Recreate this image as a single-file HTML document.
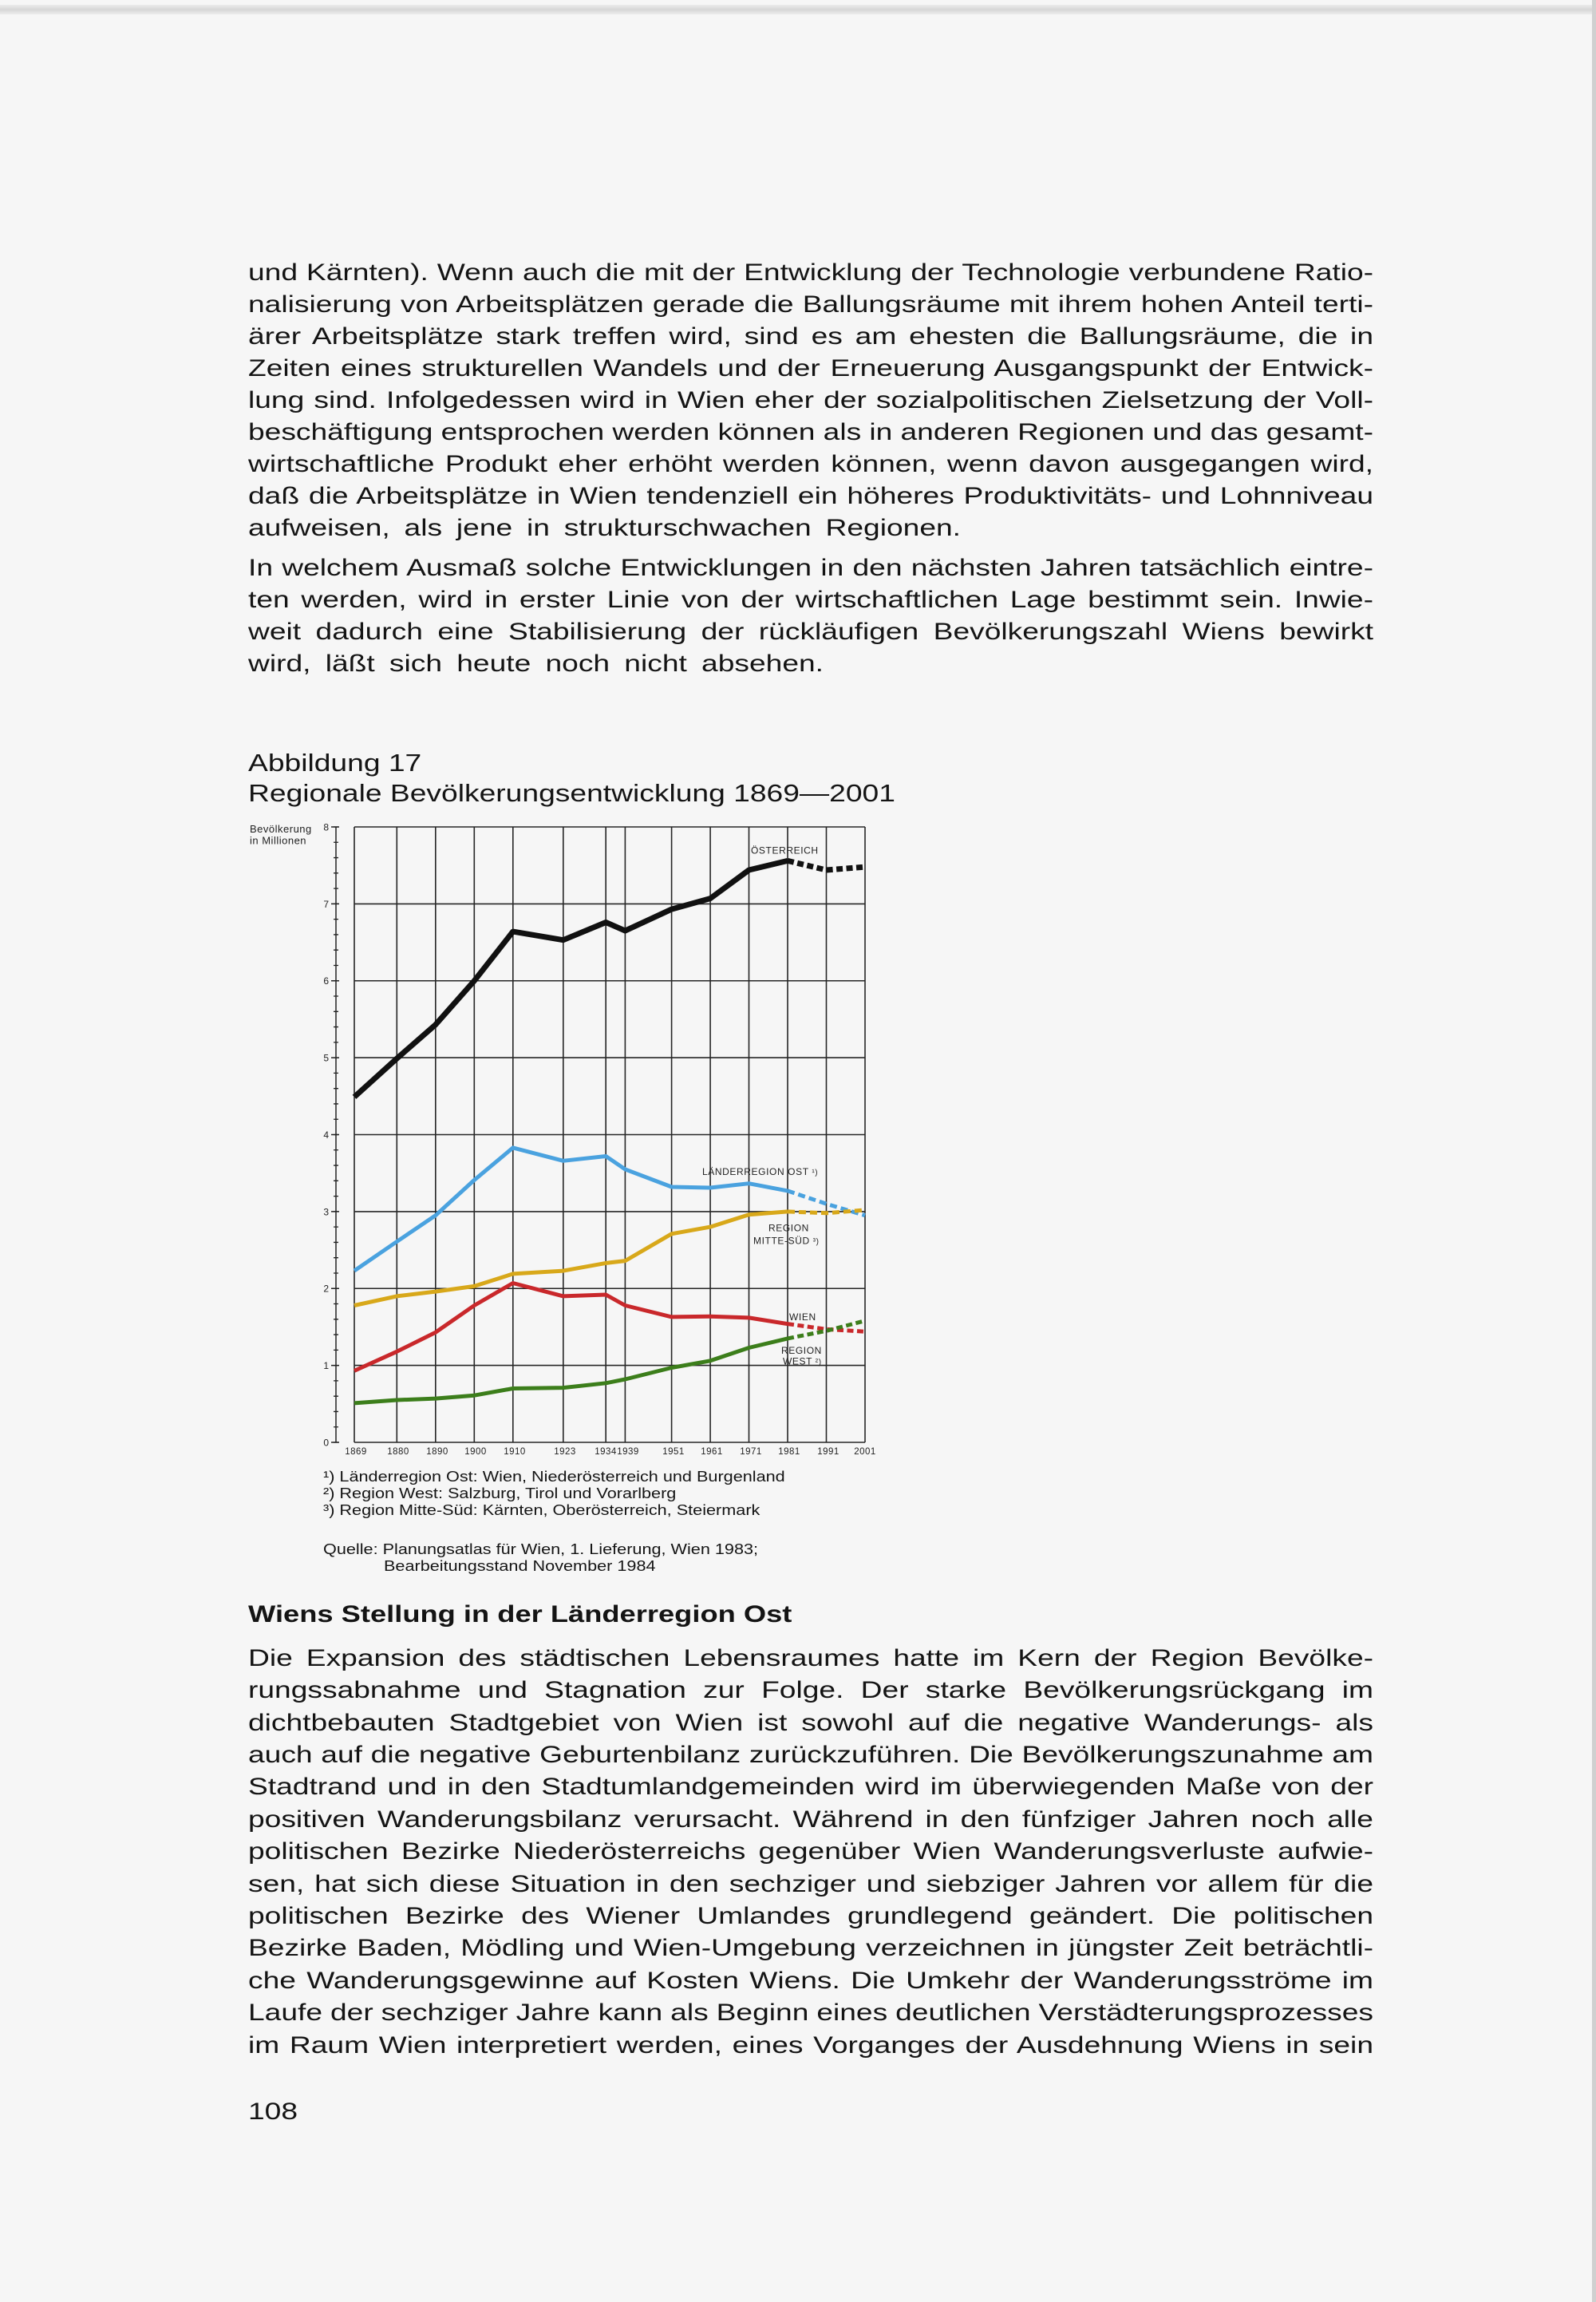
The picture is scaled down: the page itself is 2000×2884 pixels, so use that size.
<!DOCTYPE html>
<html><head><meta charset="utf-8">
<style>
html,body{margin:0;padding:0;}
body{width:2000px;height:2884px;background:#f6f6f6;position:relative;overflow:hidden;font-family:"Liberation Sans",Arial,sans-serif;color:#141414;}
.ln{position:absolute;left:311px;white-space:nowrap;font-size:29.5px;line-height:40px;height:40px;transform:scaleX(1.26);transform-origin:0 0;}
.tt{position:absolute;left:311px;white-space:nowrap;font-size:30.5px;line-height:40px;height:40px;transform:scaleX(1.22);transform-origin:0 0;}
.hd{position:absolute;left:311px;white-space:nowrap;font-size:30px;font-weight:bold;line-height:40px;height:40px;transform:scaleX(1.21);transform-origin:0 0;}
.fn{position:absolute;left:405px;white-space:nowrap;font-size:18.5px;line-height:20px;height:20px;transform:scaleX(1.17);transform-origin:0 0;}
svg{position:absolute;left:0;top:0;}
</style></head>
<body>
<div style="position:absolute;left:0;top:6px;width:2000px;height:12px;background:linear-gradient(#ececec,#d6d6d6 50%,#ececec);"></div>
<div style="position:absolute;left:1995px;top:0;width:5px;height:2884px;background:#d0d0d0;"></div>

<!-- Paragraph 1 -->
<div class="ln" style="top:321.8px">und Kärnten). Wenn auch die mit der Entwicklung der Technologie verbundene Ratio-</div>
<div class="ln" style="top:361.8px">nalisierung von Arbeitsplätzen gerade die Ballungsräume mit ihrem hohen Anteil terti-</div>
<div class="ln" style="top:401.8px">ärer Arbeitsplätze stark treffen wird, sind es am ehesten die Ballungsräume, die in</div>
<div class="ln" style="top:441.8px">Zeiten eines strukturellen Wandels und der Erneuerung Ausgangspunkt der Entwick-</div>
<div class="ln" style="top:481.8px">lung sind. Infolgedessen wird in Wien eher der sozialpolitischen Zielsetzung der Voll-</div>
<div class="ln" style="top:521.8px">beschäftigung entsprochen werden können als in anderen Regionen und das gesamt-</div>
<div class="ln" style="top:561.8px">wirtschaftliche Produkt eher erhöht werden können, wenn davon ausgegangen wird,</div>
<div class="ln" style="top:601.8px">daß die Arbeitsplätze in Wien tendenziell ein höheres Produktivitäts- und Lohnniveau</div>
<div class="ln" data-w="893" style="top:641.8px">aufweisen, als jene in strukturschwachen Regionen.</div>

<!-- Paragraph 2 -->
<div class="ln" style="top:691.8px">In welchem Ausmaß solche Entwicklungen in den nächsten Jahren tatsächlich eintre-</div>
<div class="ln" style="top:731.8px">ten werden, wird in erster Linie von der wirtschaftlichen Lage bestimmt sein. Inwie-</div>
<div class="ln" style="top:771.8px">weit dadurch eine Stabilisierung der rückläufigen Bevölkerungszahl Wiens bewirkt</div>
<div class="ln" data-w="721" style="top:811.8px">wird, läßt sich heute noch nicht absehen.</div>

<!-- Figure title -->
<div class="tt" style="top:936.4px">Abbildung 17</div>
<div class="tt" style="top:974.4px">Regionale Bevölkerungsentwicklung 1869—2001</div>

<svg width="2000" height="2884" viewBox="0 0 2000 2884" xmlns="http://www.w3.org/2000/svg">
  <g font-family="Liberation Sans, Arial, sans-serif" fill="#222">
    <text x="313" y="1043" font-size="13" letter-spacing="0.5">Bevölkerung</text>
    <text x="313" y="1057.5" font-size="13" letter-spacing="0.5">in Millionen</text>
  </g>
  <!-- Y axis -->
  <line x1="421" y1="1036" x2="421" y2="1807" stroke="#222" stroke-width="1.5"/>
  <line x1="421" y1="1807.65" x2="421" y2="1030" stroke="#222" stroke-width="6" stroke-dasharray="1.3 17.975"/>
  <line x1="420" y1="1807.75" x2="420" y2="1030" stroke="#222" stroke-width="10" stroke-dasharray="1.5 94.875"/>
  <g font-family="Liberation Sans, Arial, sans-serif" font-size="12" fill="#222" text-anchor="end">
    <text x="412" y="1811.5">0</text>
    <text x="412" y="1715">1</text>
    <text x="412" y="1618.7">2</text>
    <text x="412" y="1522.4">3</text>
    <text x="412" y="1426">4</text>
    <text x="412" y="1329.6">5</text>
    <text x="412" y="1233.2">6</text>
    <text x="412" y="1136.9">7</text>
    <text x="412" y="1040.5">8</text>
  </g>
  <!-- Grid -->
  <g stroke="#262626" stroke-width="1.6">
    <line x1="444" y1="1807" x2="1084" y2="1807"/>
    <line x1="444" y1="1710.6" x2="1084" y2="1710.6"/>
    <line x1="444" y1="1614.25" x2="1084" y2="1614.25"/>
    <line x1="444" y1="1517.9" x2="1084" y2="1517.9"/>
    <line x1="444" y1="1421.5" x2="1084" y2="1421.5"/>
    <line x1="444" y1="1325.1" x2="1084" y2="1325.1"/>
    <line x1="444" y1="1228.75" x2="1084" y2="1228.75"/>
    <line x1="444" y1="1132.4" x2="1084" y2="1132.4"/>
    <line x1="444" y1="1036" x2="1084" y2="1036"/>
    <line x1="444" y1="1036" x2="444" y2="1807"/>
    <line x1="497.3" y1="1036" x2="497.3" y2="1807"/>
    <line x1="545.8" y1="1036" x2="545.8" y2="1807"/>
    <line x1="594.3" y1="1036" x2="594.3" y2="1807"/>
    <line x1="642.8" y1="1036" x2="642.8" y2="1807"/>
    <line x1="705.8" y1="1036" x2="705.8" y2="1807"/>
    <line x1="759.2" y1="1036" x2="759.2" y2="1807"/>
    <line x1="783.4" y1="1036" x2="783.4" y2="1807"/>
    <line x1="841.6" y1="1036" x2="841.6" y2="1807"/>
    <line x1="890.1" y1="1036" x2="890.1" y2="1807"/>
    <line x1="938.5" y1="1036" x2="938.5" y2="1807"/>
    <line x1="987" y1="1036" x2="987" y2="1807"/>
    <line x1="1035.5" y1="1036" x2="1035.5" y2="1807"/>
    <line x1="1084" y1="1036" x2="1084" y2="1807"/>
  </g>
  <!-- Year labels -->
  <g font-family="Liberation Sans, Arial, sans-serif" font-size="11.5" fill="#222" text-anchor="middle" letter-spacing="0.5">
    <text x="446" y="1822">1869</text>
    <text x="499" y="1822">1880</text>
    <text x="548" y="1822">1890</text>
    <text x="596" y="1822">1900</text>
    <text x="645" y="1822">1910</text>
    <text x="708" y="1822">1923</text>
    <text x="759" y="1822">1934</text>
    <text x="787" y="1822">1939</text>
    <text x="844" y="1822">1951</text>
    <text x="892" y="1822">1961</text>
    <text x="941" y="1822">1971</text>
    <text x="989" y="1822">1981</text>
    <text x="1038" y="1822">1991</text>
    <text x="1084" y="1822">2001</text>
  </g>
  <!-- Series -->
  <g fill="none" stroke-linejoin="round">
    <!-- Österreich -->
    <polyline stroke="#111" stroke-width="7" points="444,1374.3 497.3,1326.1 545.8,1283.7 594.3,1228.8 642.8,1167.1 705.8,1177.7 759.2,1155.5 783.4,1166.1 841.6,1139.1 890.1,1125.6 938.5,1090 987,1078.4"/>
    <polyline stroke="#111" stroke-width="7" stroke-dasharray="8 4.5" points="987,1078.4 1035.5,1090 1084,1086.1"/>
    <!-- Länderregion Ost -->
    <polyline stroke="#4aa2df" stroke-width="5" points="444,1592.1 497.3,1555.5 545.8,1522.7 594.3,1478.4 642.8,1437.9 705.8,1454.3 759.2,1448.5 783.4,1464.9 841.6,1487 890.1,1488 938.5,1482.7 987,1491.9"/>
    <polyline stroke="#4aa2df" stroke-width="5" stroke-dasharray="9 5" points="987,1491.9 1035.5,1508.2 1084,1522.7"/>
    <!-- Mitte-Süd -->
    <polyline stroke="#d8a81a" stroke-width="5" points="444,1635.5 497.3,1623.9 545.8,1618.1 594.3,1611.4 642.8,1595.9 705.8,1592.1 759.2,1582.4 783.4,1579.6 841.6,1545.8 890.1,1537.1 938.5,1521.7 987,1517.9"/>
    <polyline stroke="#d8a81a" stroke-width="5" stroke-dasharray="9 5" points="987,1517.9 1035.5,1519.8 1084,1515.9"/>
    <!-- Wien -->
    <polyline stroke="#c9282b" stroke-width="5" points="444,1717.4 497.3,1693.3 545.8,1669.2 594.3,1635.5 642.8,1607.5 705.8,1623.9 759.2,1622 783.4,1635.5 841.6,1649.9 890.1,1649.3 938.5,1650.9 987,1658.6"/>
    <polyline stroke="#c9282b" stroke-width="5" stroke-dasharray="8 4.5" points="987,1658.6 1035.5,1665.3 1084,1668.2"/>
    <!-- Region West -->
    <polyline stroke="#3c7e1b" stroke-width="5" points="444,1757.9 497.3,1754 545.8,1752.1 594.3,1748.2 642.8,1739.5 705.8,1738.6 759.2,1732.8 783.4,1728 841.6,1713.5 890.1,1704.8 938.5,1688.5 987,1676.9"/>
    <polyline stroke="#3c7e1b" stroke-width="5" stroke-dasharray="8 4.5" points="987,1676.9 1035.5,1667.3 1084,1654.7"/>
  </g>
  <!-- Series labels -->
  <g font-family="Liberation Sans, Arial, sans-serif" font-size="12" fill="#222" letter-spacing="0.6">
    <text x="941" y="1069.5">ÖSTERREICH</text>
    <text x="880" y="1472">LÄNDERREGION OST <tspan font-size="10">¹)</tspan></text>
    <text x="963" y="1542.7">REGION</text>
    <text x="944" y="1558.5">MITTE-SÜD <tspan font-size="10">³)</tspan></text>
    <text x="989" y="1654">WIEN</text>
    <text x="979" y="1696">REGION</text>
    <text x="981" y="1709.5">WEST <tspan font-size="10">²)</tspan></text>
  </g>
</svg>

<!-- Footnotes -->
<div class="fn" style="top:1839.6px">¹) Länderregion Ost: Wien, Niederösterreich und Burgenland</div>
<div class="fn" style="top:1860.6px">²) Region West: Salzburg, Tirol und Vorarlberg</div>
<div class="fn" style="top:1881.6px">³) Region Mitte-Süd: Kärnten, Oberösterreich, Steiermark</div>
<div class="fn" style="top:1930.6px">Quelle: Planungsatlas für Wien, 1. Lieferung, Wien 1983;</div>
<div class="fn" style="top:1951.6px;left:481px">Bearbeitungsstand November 1984</div>

<!-- Heading -->
<div class="hd" style="top:2002.6px">Wiens Stellung in der Länderregion Ost</div>

<!-- Bottom paragraph -->
<div class="ln" style="top:2057.8px">Die Expansion des städtischen Lebensraumes hatte im Kern der Region Bevölke-</div>
<div class="ln" style="top:2098.2px">rungssabnahme und Stagnation zur Folge. Der starke Bevölkerungsrückgang im</div>
<div class="ln" style="top:2138.6px">dichtbebauten Stadtgebiet von Wien ist sowohl auf die negative Wanderungs- als</div>
<div class="ln" style="top:2179px">auch auf die negative Geburtenbilanz zurückzuführen. Die Bevölkerungszunahme am</div>
<div class="ln" style="top:2219.4px">Stadtrand und in den Stadtumlandgemeinden wird im überwiegenden Maße von der</div>
<div class="ln" style="top:2259.8px">positiven Wanderungsbilanz verursacht. Während in den fünfziger Jahren noch alle</div>
<div class="ln" style="top:2300.2px">politischen Bezirke Niederösterreichs gegenüber Wien Wanderungsverluste aufwie-</div>
<div class="ln" style="top:2340.6px">sen, hat sich diese Situation in den sechziger und siebziger Jahren vor allem für die</div>
<div class="ln" style="top:2381px">politischen Bezirke des Wiener Umlandes grundlegend geändert. Die politischen</div>
<div class="ln" style="top:2421.4px">Bezirke Baden, Mödling und Wien-Umgebung verzeichnen in jüngster Zeit beträchtli-</div>
<div class="ln" style="top:2461.8px">che Wanderungsgewinne auf Kosten Wiens. Die Umkehr der Wanderungsströme im</div>
<div class="ln" style="top:2502.2px">Laufe der sechziger Jahre kann als Beginn eines deutlichen Verstädterungsprozesses</div>
<div class="ln" style="top:2542.6px">im Raum Wien interpretiert werden, eines Vorganges der Ausdehnung Wiens in sein</div>

<!-- Page number -->
<div class="ln" style="top:2625.8px">108</div>

<script>
(function(){
  var S = 1.26;
  var els = document.querySelectorAll('.ln');
  for (var i = 0; i < els.length; i++) {
    var el = els[i];
    var txt = el.textContent;
    if (txt === '108') continue;
    var t = (el.getAttribute('data-w') ? parseFloat(el.getAttribute('data-w')) : 1410) / S;
    el.style.letterSpacing = '0px';
    el.style.wordSpacing = '0px';
    var r = el.getBoundingClientRect().width / S;
    var sp = (txt.match(/ /g) || []).length;
    var d = t - r;
    if (sp > 0) {
      var W = d / sp;
      if (W < -3) {
        var n = txt.length - 1;
        var L = (d + 3 * sp) / n;
        el.style.letterSpacing = L + 'px';
        W = -3;
      }
      el.style.wordSpacing = W + 'px';
    } else if (txt.length > 1) {
      el.style.letterSpacing = (d / (txt.length - 1)) + 'px';
    }
  }
})();
</script>
</body></html>
